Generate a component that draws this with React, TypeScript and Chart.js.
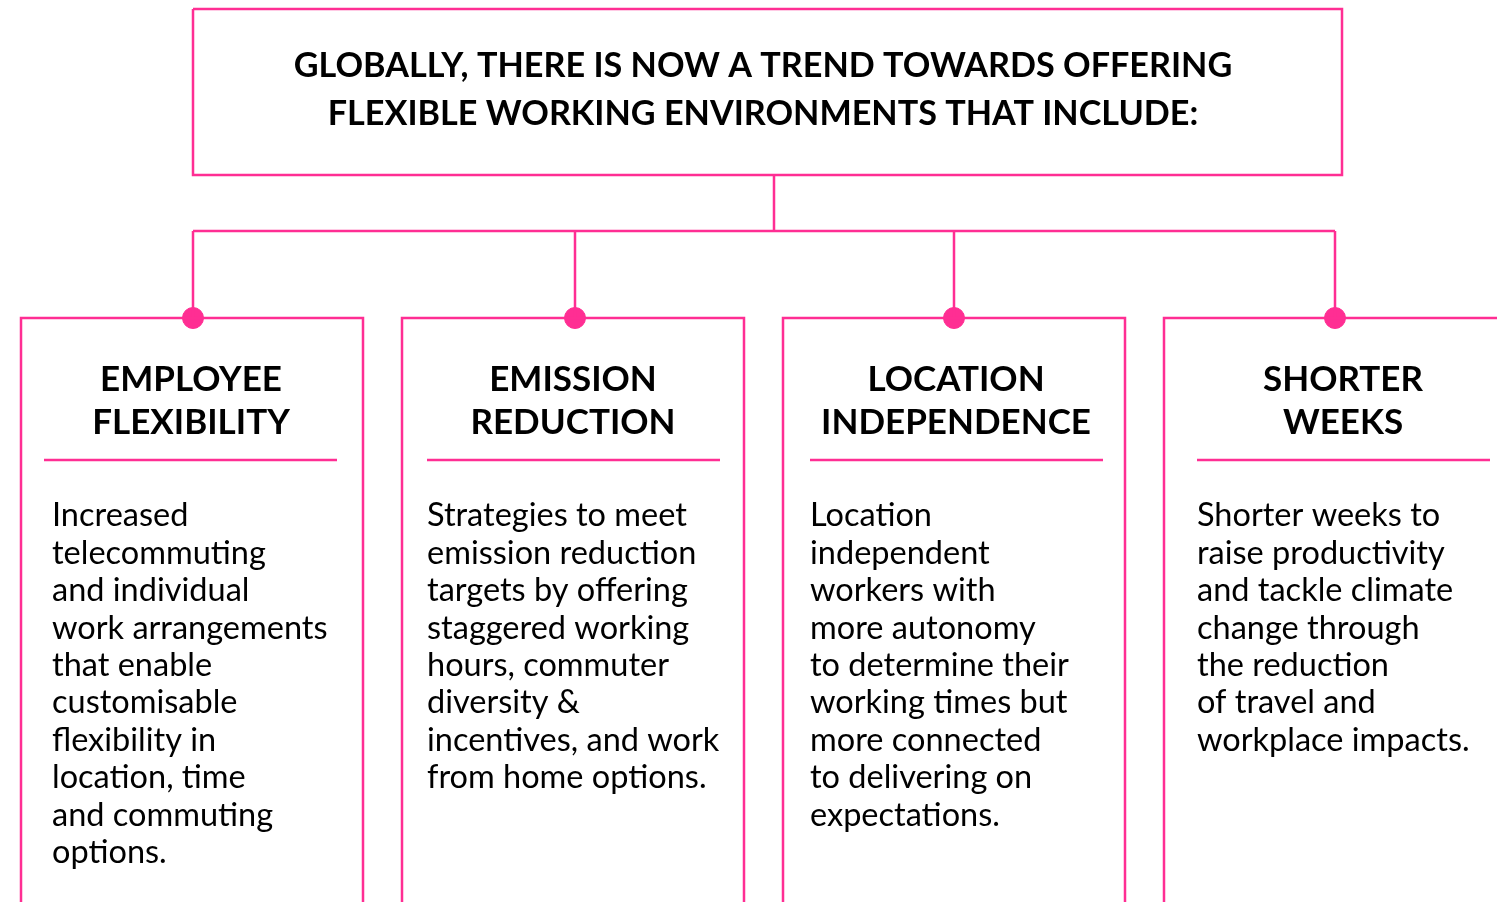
import React, { useEffect, useRef } from "react";
import { Chart, registerables } from "chart.js";

Chart.register(...registerables);

const TITLE_LINES = [
  "GLOBALLY, THERE IS NOW A TREND TOWARDS OFFERING",
  "FLEXIBLE WORKING ENVIRONMENTS THAT INCLUDE:",
];

const CATEGORIES = [
  ["EMPLOYEE", "FLEXIBILITY"],
  ["EMISSION", "REDUCTION"],
  ["LOCATION", "INDEPENDENCE"],
  ["SHORTER", "WEEKS"],
];

const DESCRIPTIONS = [
  [
    "Increased",
    "telecommuting",
    "and individual",
    "work arrangements",
    "that enable",
    "customisable",
    "flexibility in",
    "location, time",
    "and commuting",
    "options.",
  ],
  [
    "Strategies to meet",
    "emission reduction",
    "targets by offering",
    "staggered working",
    "hours, commuter",
    "diversity &",
    "incentives, and work",
    "from home options.",
  ],
  [
    "Location",
    "independent",
    "workers with",
    "more autonomy",
    "to determine their",
    "working times but",
    "more connected",
    "to delivering on",
    "expectations.",
  ],
  [
    "Shorter weeks to",
    "raise productivity",
    "and tackle climate",
    "change through",
    "the reduction",
    "of travel and",
    "workplace impacts.",
  ],
];

// layout (pixels of the 1497x902 canvas)
const W = 1497;
const H = 902;
const PINK = "#ff2e93";
const TOP_BOX = { x1: 193, y1: 9, x2: 1342, y2: 175 };
const BUS_Y = 231;
const BOX_TOP = 318;
const BOX_LEFT = [21, 402, 783, 1164];
const BOX_W = 342;
const CONNECT_X = [193, 575, 954, 1335];
const HEAD_CX = [191, 573, 956, 1343];
const SEP = [
  [44, 337],
  [427, 720],
  [810, 1103],
  [1197, 1490],
];
const SEP_Y = 460;
const TEXT_X = [52, 427, 810, 1197];

export default function App() {
  const ref = useRef<HTMLCanvasElement | null>(null);

  useEffect(() => {
    if (!ref.current) return;
    const pts: any[] = [];
    const seg = (arr: number[][]) => {
      arr.forEach(([x, y]) => pts.push({ x, y }));
      pts.push({ x: arr[0][0], y: null });
    };
    // top box
    seg([
      [TOP_BOX.x1, TOP_BOX.y1],
      [TOP_BOX.x2, TOP_BOX.y1],
      [TOP_BOX.x2, TOP_BOX.y2],
      [TOP_BOX.x1, TOP_BOX.y2],
      [TOP_BOX.x1, TOP_BOX.y1],
    ]);
    const midX = 774;
    seg([
      [midX, TOP_BOX.y2],
      [midX, BUS_Y],
    ]);
    seg([
      [CONNECT_X[0], BUS_Y],
      [CONNECT_X[CONNECT_X.length - 1], BUS_Y],
    ]);
    CONNECT_X.forEach((cx) =>
      seg([
        [cx, BUS_Y],
        [cx, BOX_TOP],
      ])
    );
    BOX_LEFT.forEach((bx, i) => {
      const right = i === BOX_LEFT.length - 1 ? W + 5 : bx + BOX_W;
      const path = [
        [bx, H + 5],
        [bx, BOX_TOP],
        [right, BOX_TOP],
      ];
      if (i !== BOX_LEFT.length - 1) path.push([right, H + 5]);
      seg(path);
      seg([
        [SEP[i][0], SEP_Y],
        [SEP[i][1], SEP_Y],
      ]);
    });

    const textPlugin = {
      id: "texts",
      afterDatasetsDraw(chart: any) {
        const { ctx, scales } = chart;
        const px = (v: number) => scales.x.getPixelForValue(v);
        const py = (v: number) => scales.y.getPixelForValue(v);
        ctx.save();
        ctx.fillStyle = "#000";
        ctx.textBaseline = "middle";
        ctx.textAlign = "center";
        ctx.font = "bold 34.2px Lato";
        TITLE_LINES.forEach((t, i) => ctx.fillText(t, px(763), py(66 + i * 48)));
        ctx.font = "bold 35px Lato";
        CATEGORIES.forEach((c, i) =>
          c.forEach((t, j) => ctx.fillText(t, px(HEAD_CX[i]), py(380 + j * 43)))
        );
        ctx.textAlign = "left";
        ctx.font = "32.5px Lato";
        DESCRIPTIONS.forEach((d, i) =>
          d.forEach((t, j) => ctx.fillText(t, px(TEXT_X[i]), py(516 + j * 37.4)))
        );
        ctx.restore();
      },
    };

    const chart = new Chart(ref.current, {
      type: "scatter",
      data: {
        datasets: [
          {
            type: "line",
            data: pts,
            borderColor: PINK,
            borderWidth: 2.5,
            pointRadius: 0,
            spanGaps: false,
            fill: false,
            tension: 0,
            clip: false,
          } as any,
          {
            type: "scatter",
            data: CONNECT_X.map((x) => ({ x, y: BOX_TOP })),
            backgroundColor: PINK,
            borderColor: PINK,
            pointRadius: 10.5,
            pointHoverRadius: 10.5,
            clip: false,
          } as any,
        ],
      },
      options: {
        animation: false,
        responsive: false,
        maintainAspectRatio: false,
        layout: { padding: 0, autoPadding: false },
        events: [],
        plugins: { legend: { display: false }, tooltip: { enabled: false } },
        scales: {
          x: { type: "linear", min: 0, max: W, display: false },
          y: { type: "linear", min: 0, max: H, reverse: true, display: false },
        },
      } as any,
      plugins: [textPlugin],
    });
    return () => chart.destroy();
  }, []);

  return (
    <div style={{ position: "fixed", left: 0, top: 0, width: W, height: H, background: "#fff" }}>
      <canvas ref={ref} width={W} height={H} style={{ display: "block" }} />
    </div>
  );
}
